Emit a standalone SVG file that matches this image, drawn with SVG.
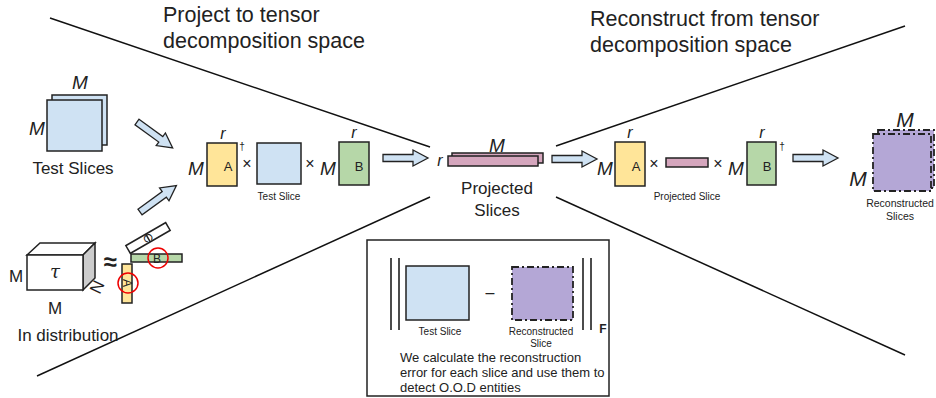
<svg xmlns="http://www.w3.org/2000/svg" width="936" height="398" viewBox="0 0 936 398">
<style>
text{font-family:"Liberation Sans",Arial,sans-serif;fill:#222}
.t{font-size:21.5px}
.m{font-size:19px;font-style:italic}
.r{font-size:16px;font-style:italic}
.lb{font-size:17px}
.sm{font-size:10px}
.bx{stroke:#222;stroke-width:1.5}
.blue{fill:#cfe2f3}
.yel{fill:#ffe599}
.grn{fill:#b6d7a8}
.pink{fill:#d5a6bd}
.pur{fill:#b4a7d6;stroke:#222;stroke-width:1.8;stroke-dasharray:7 3 2 3}
.ln{stroke:#111;stroke-width:1.5;fill:none}
.arr{fill:#cfe2f3;stroke:#222;stroke-width:1.3}
</style>
<defs>
<path id="ba" d="M0,-3.5 H30 V-8 L45,0 L30,8 V3.5 H0 Z"/>
</defs>

<g id="connectors">
<line class="ln" x1="50" y1="18" x2="430" y2="147"/>
<line class="ln" x1="37" y1="376" x2="430" y2="197"/>
<line class="ln" x1="556" y1="146" x2="905" y2="26"/>
<line class="ln" x1="556" y1="197" x2="905" y2="355"/>
<use href="#ba" class="arr" transform="translate(137,122) rotate(36) scale(0.98)"/>
<use href="#ba" class="arr" transform="translate(140,212) rotate(-36) scale(1)"/>
<use href="#ba" class="arr" transform="translate(383,158)"/>
<use href="#ba" class="arr" transform="translate(552,159)"/>
<use href="#ba" class="arr" transform="translate(793,158)"/>
</g>

<g id="titles">
<text class="t" x="163" y="22">Project to tensor</text>
<text class="t" x="163" y="48">decomposition space</text>
<text class="t" x="590" y="26">Reconstruct from tensor</text>
<text class="t" x="590" y="52">decomposition space</text>
</g>

<g id="test-slices">
<rect class="bx blue" x="52" y="95" width="55" height="50"/>
<rect class="bx blue" x="47" y="100" width="55" height="51"/>
<text class="m" x="80" y="89" text-anchor="middle">M</text>
<text class="m" x="37" y="135" text-anchor="middle">M</text>
<text class="lb" x="73" y="174" text-anchor="middle">Test Slices</text>
</g>

<g id="in-distribution">
<polygon class="bx" fill="#fff" points="27,255 40,243 95,243 83,255"/>
<polygon class="bx" fill="#cccccc" points="83,255 95,243 95,278 83,290"/>
<rect class="bx" fill="#fff" x="27" y="255" width="56" height="35"/>
<text x="55" y="278" text-anchor="middle" style="font-family:'DejaVu Serif',serif;font-style:italic;font-size:18px">τ</text>
<text class="lb" x="16" y="282" text-anchor="middle">M</text>
<text class="lb" x="55" y="314" text-anchor="middle">M</text>
<text class="lb" x="97" y="293" text-anchor="middle" transform="rotate(-65 97 287)">N</text>
<text class="lb" x="68" y="341" text-anchor="middle">In distribution</text>
<text x="110" y="270" text-anchor="middle" style="font-size:24px;font-weight:bold">≈</text>
<rect class="bx" fill="#fff" x="125" y="233.5" width="46" height="9" transform="rotate(-30 148 238)"/>
<line class="bx" x1="148" y1="233.5" x2="148" y2="242.5" transform="rotate(-30 148 238)"/>
<text x="148" y="242" text-anchor="middle" transform="rotate(60 148 238)" style="font-size:12px">C</text>
<rect class="bx grn" x="131" y="254" width="51" height="8"/>
<rect class="bx yel" x="122" y="264" width="10" height="39"/>
<text x="157" y="263" text-anchor="middle" style="font-size:12px">B</text>
<text x="127" y="287" text-anchor="middle" transform="rotate(90 127 283)" style="font-size:12px">A</text>
<circle cx="158" cy="258" r="10" fill="none" stroke="#e00" stroke-width="1.5"/>
<circle cx="128" cy="283" r="10" fill="none" stroke="#e00" stroke-width="1.5"/>
</g>

<g id="projection">
<rect class="bx yel" x="207" y="143" width="30" height="43"/>
<text class="r" x="223" y="139" text-anchor="middle">r</text>
<text class="m" x="196" y="175" text-anchor="middle">M</text>
<text x="228" y="171" text-anchor="middle" style="font-size:13px">A</text>
<text x="242" y="150" text-anchor="middle" style="font-size:10px">†</text>
<text x="247" y="169" text-anchor="middle" style="font-size:16px">×</text>
<rect class="bx blue" x="257" y="143" width="44" height="41"/>
<text class="sm" x="279" y="200" text-anchor="middle">Test Slice</text>
<text x="310" y="169" text-anchor="middle" style="font-size:16px">×</text>
<text class="m" x="328" y="175" text-anchor="middle">M</text>
<rect class="bx grn" x="339" y="142" width="30" height="43"/>
<text class="r" x="354" y="138" text-anchor="middle">r</text>
<text x="359" y="171" text-anchor="middle" style="font-size:13px">B</text>
</g>

<g id="projected-slices">
<rect class="bx pink" x="452" y="153" width="91" height="10"/>
<rect class="bx pink" x="448" y="156" width="90" height="10"/>
<text class="r" x="440" y="166" text-anchor="middle">r</text>
<text class="m" x="497" y="152" text-anchor="middle">M</text>
<text class="lb" x="497" y="194" text-anchor="middle">Projected</text>
<text class="lb" x="497" y="216" text-anchor="middle">Slices</text>
</g>

<g id="reconstruction">
<rect class="bx yel" x="615" y="142" width="30" height="44"/>
<text class="r" x="630" y="138" text-anchor="middle">r</text>
<text class="m" x="605" y="175" text-anchor="middle">M</text>
<text x="636" y="171" text-anchor="middle" style="font-size:13px">A</text>
<text x="654" y="169" text-anchor="middle" style="font-size:16px">×</text>
<rect class="bx pink" x="666" y="158" width="42" height="9"/>
<text class="sm" x="687" y="200" text-anchor="middle">Projected Slice</text>
<text x="718" y="169" text-anchor="middle" style="font-size:16px">×</text>
<text class="m" x="736" y="175" text-anchor="middle">M</text>
<rect class="bx grn" x="747" y="142" width="29" height="43"/>
<text class="r" x="762" y="138" text-anchor="middle">r</text>
<text x="767" y="171" text-anchor="middle" style="font-size:13px">B</text>
<text x="782" y="150" text-anchor="middle" style="font-size:10px">†</text>
</g>

<g id="reconstructed-slices">
<rect class="pur" x="878" y="130" width="56" height="58"/>
<rect class="pur" x="873" y="134" width="58" height="57"/>
<text class="m" x="905" y="127" text-anchor="middle" style="font-size:21px">M</text>
<text class="m" x="858" y="186" text-anchor="middle" style="font-size:21px">M</text>
<text x="900" y="207" text-anchor="middle" style="font-size:10.5px">Reconstructed</text>
<text x="900" y="220" text-anchor="middle" style="font-size:10.5px">Slices</text>
</g>

<g id="error-box">
<rect x="367" y="240" width="242" height="156" fill="#fff" stroke="#222" stroke-width="1.5"/>
<line class="ln" x1="391" y1="258" x2="391" y2="330"/>
<line class="ln" x1="399" y1="258" x2="399" y2="330"/>
<rect class="bx blue" x="406" y="266" width="63" height="54"/>
<text class="sm" x="440" y="335" text-anchor="middle">Test Slice</text>
<text x="490" y="298" text-anchor="middle" style="font-size:16px">–</text>
<rect class="pur" x="512" y="267" width="61" height="53"/>
<text class="sm" x="541" y="335" text-anchor="middle">Reconstructed</text>
<text class="sm" x="541" y="347" text-anchor="middle">Slice</text>
<line class="ln" x1="583" y1="258" x2="583" y2="330"/>
<line class="ln" x1="591" y1="258" x2="591" y2="330"/>
<text x="603" y="333" text-anchor="middle" style="font-size:12px;font-weight:bold">F</text>
<text x="400" y="362" style="font-size:13px">We calculate the reconstruction</text>
<text x="400" y="377" style="font-size:13px">error for each slice and use them to</text>
<text x="400" y="392" style="font-size:13px">detect O.O.D entities</text>
</g>
</svg>
